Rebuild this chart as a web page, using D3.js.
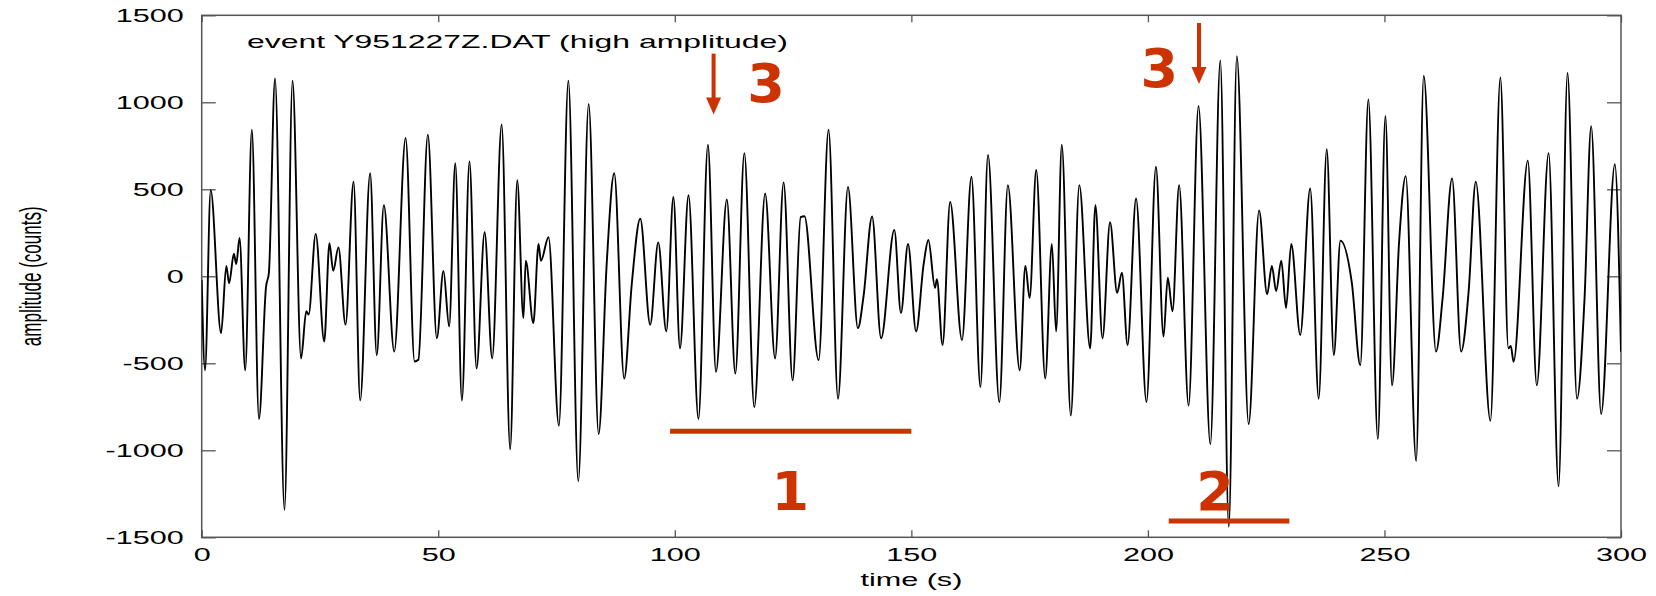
<!DOCTYPE html>
<html>
<head>
<meta charset="utf-8">
<script src="https://cdn.jsdelivr.net/npm/d3@7"></script>
<style>
  body { margin: 0; background: #fff; }
  svg { display: block; }
</style>
</head>
<body>
<div id="chart"></div>
<script>
// seismogram samples (time in s, amplitude in counts)
const time = [
  0.0, 0.7, 1.9, 4.1, 5.2, 5.8, 6.8, 7.3, 8.0, 9.2, 10.6, 12.1, 13.6, 14.2, 15.5, 17.5, 19.2, 21.0, 22.1, 22.6,
  24.1, 25.9, 27.0, 27.8, 28.9, 30.4, 32.1, 33.5, 35.6, 37.0, 38.5, 40.7, 43.1, 45.0, 45.8, 47.8, 49.7, 51.1, 52.3, 53.6,
  55.0, 56.6, 58.1, 59.8, 61.4, 63.4, 65.2, 66.7, 68.0, 68.5, 70.1, 71.2, 71.7, 73.3, 75.5, 77.5, 79.6, 81.8, 83.9, 85.6,
  87.2, 89.3, 90.9, 92.7, 94.8, 96.5, 98.2, 99.7, 101.1, 102.9, 105.0, 107.0, 108.7, 111.0, 112.8, 114.7, 116.8, 119.1, 121.2, 123.0,
  124.9, 126.6, 127.4, 130.4, 132.5, 134.5, 136.6, 138.7, 139.9, 141.7, 143.6, 146.4, 147.8, 149.3, 151.0, 152.6, 153.6, 155.0, 155.4, 156.6,
  158.2, 160.7, 162.7, 164.6, 166.2, 168.6, 170.4, 172.9, 174.1, 175.0, 176.4, 178.3, 179.7, 180.6, 181.8, 183.7, 185.5, 187.8, 188.9, 190.4,
  192.0, 193.5, 194.5, 195.7, 197.5, 199.7, 201.7, 203.3, 204.2, 205.2, 206.6, 208.6, 210.7, 213.2, 215.3, 217.1, 218.8, 221.3, 223.5, 225.2,
  226.2, 227.1, 228.2, 229.2, 230.3, 232.2, 234.3, 236.1, 237.8, 239.3, 240.7, 243.1, 244.9, 246.6, 248.6, 250.2, 251.6, 253.1, 254.5, 256.7,
  258.3, 260.9, 262.3, 264.3, 266.2, 267.8, 269.3, 272.4, 274.5, 276.2, 276.7, 277.3, 280.3, 282.2, 284.7, 286.8, 288.7, 290.7, 292.3, 293.7,
  295.8, 298.7, 300.0
];
const amplitude = [
  -20, -540, 495, -327, 60, -40, 130, 70, 220, -540, 843, -820, -60, 20, 1137, -1342, 1124, -472, -201, -220,
  244, -375, 190, 31, 166, -278, 543, -714, 592, -453, 408, -433, 795, -490, -480, 814, -356, 31, -288, 650,
  -714, 660, -530, 253, -472, 872, -994, 553, -240, 89, -269, 186, 89, 224, -859, 1124, -1178, 990, -907, 70,
  592, -588, -46, 331, -278, 195, -317, 456, -414, 466, -820, 756, -549, 441, -559, 708, -752, 476, -472, 540,
  -598, 340, 345, -482, 843, -704, 514, -298, -114, 344, -356, 267, -211, 186, -317, 70, 209, -66, -17, -395,
  427, -366, 572, -636, 698, -723, 524, -540, 60, -124, 611, -588, 186, -317, 756, -801, 524, -414, 408, -356,
  311, -95, 21, -395, 447, -723, 630, -346, -8, -201, 524, -743, 979, -965, 1240, -1439, 1265, -850, 379, -104,
  60, -85, 89, -182, 186, -337, 505, -704, 731, -453, 205, -37, -511, 1017, -936, 921, -627, 200, 576, -1062,
  1153, -433, -124, 563, -433, -85, 543, -830, 1143, -414, -400, -491, 665, -627, 708, -1207, 1168, -704, -124, 863,
  -791, 644, -433
];

const xTicks = [0, 50, 100, 150, 200, 250, 300];
const yTicks = [-1500, -1000, -500, 0, 500, 1000, 1500];

const title = "event Y951227Z.DAT (high amplitude)";
const xLabel = "time (s)";
const yLabel = "amplitude (counts)";

// red annotations, in data units
const arrows = [
  {t: 108.2, from: 1280, to: 930},
  {t: 210.8, from: 1456, to: 1105}
];
const spans = [
  {t0: 99, t1: 150, v: -890},
  {t0: 204.4, t1: 229.9, v: -1406}
];
const marks = [
  {t: 119.3, v: 1002, text: "3"},
  {t: 202.4, v: 1088, text: "3"},
  {t: 124.4, v: -1341, text: "1"},
  {t: 214.2, v: -1341, text: "2"}
];

const width = 1656, height = 596;
const plotLeft = 201.7, plotRight = 1621, plotTop = 15.3, plotBottom = 537.3;
const stretch = 1.7;
const red = "#cc3300";
const frameColor = "#555";

let svg = d3.select("#chart").append("svg")
  .attr("width", width)
  .attr("height", height)

let x = d3.scaleLinear().domain([0, 300]).range([plotLeft, plotRight])
let y = d3.scaleLinear().domain([-1500, 1500]).range([plotBottom, plotTop])

svg.append("defs").append("clipPath").attr("id", "plotClip")
  .append("rect")
  .attr("x", plotLeft).attr("y", plotTop)
  .attr("width", plotRight - plotLeft).attr("height", plotBottom - plotTop)

//axes with inward ticks on all four sides
let fmt = d => String(d)

let leftAxis = svg.append("g")
  .attr("transform", "translate(" + plotLeft + ",0)")
  .call(d3.axisLeft(y).tickValues(yTicks).tickSize(-14).tickFormat(fmt))
leftAxis.selectAll("text")
  .attr("x", 0)
  .attr("transform", "translate(-18,0) scale(" + stretch + ",1)")

svg.append("g")
  .attr("transform", "translate(" + plotRight + ",0)")
  .call(d3.axisRight(y).tickValues(yTicks).tickSize(-14).tickFormat(""))

let bottomAxis = svg.append("g")
  .attr("transform", "translate(0," + plotBottom + ")")
  .call(d3.axisBottom(x).tickValues(xTicks).tickSize(-7).tickPadding(11).tickFormat(fmt))
bottomAxis.selectAll("text")
  .attr("transform", "scale(" + stretch + ",1)")

svg.append("g")
  .attr("transform", "translate(0," + plotTop + ")")
  .call(d3.axisTop(x).tickValues(xTicks).tickSize(-7).tickFormat(""))

svg.selectAll(".domain").remove()
svg.selectAll(".tick line").attr("stroke", frameColor).attr("stroke-width", 1.3)
svg.selectAll(".tick text")
  .attr("fill", "#000")
  .style("font-family", "'Liberation Sans', Arial, sans-serif")
  .style("font-size", "18px")

//frame
svg.append("rect")
  .attr("x", plotLeft).attr("y", plotTop)
  .attr("width", plotRight - plotLeft).attr("height", plotBottom - plotTop)
  .attr("fill", "none")
  .attr("stroke", frameColor)
  .attr("stroke-width", 1.5)

//waveform
let points = time.map((t, i) => [t, amplitude[i]])
let line = d3.line()
  .x(d => x(d[0]))
  .y(d => y(d[1]))
  .curve(d3.curveMonotoneX)

svg.append("path")
  .datum(points)
  .attr("clip-path", "url(#plotClip)")
  .attr("d", line)
  .attr("fill", "none")
  .attr("stroke", "#000")
  .attr("stroke-width", 1.9)

//title and axis labels
svg.append("text")
  .text(title)
  .attr("transform", "translate(247,48) scale(1.68,1)")
  .style("font-family", "'Liberation Sans', Arial, sans-serif")
  .style("font-size", "19px")

svg.append("text")
  .text(xLabel)
  .attr("text-anchor", "middle")
  .attr("transform", "translate(" + x(150) + ",586) scale(" + stretch + ",1)")
  .style("font-family", "'Liberation Sans', Arial, sans-serif")
  .style("font-size", "18px")

svg.append("text")
  .text(yLabel)
  .attr("text-anchor", "middle")
  .attr("transform", "translate(41," + y(0) + ") rotate(-90) scale(1," + stretch + ")")
  .style("font-family", "'Liberation Sans', Arial, sans-serif")
  .style("font-size", "17px")

//red annotations
svg.selectAll(".span")
  .data(spans)
  .enter().append("line")
  .attr("x1", d => x(d.t0))
  .attr("x2", d => x(d.t1))
  .attr("y1", d => y(d.v))
  .attr("y2", d => y(d.v))
  .attr("stroke", red)
  .attr("stroke-width", 5)

let arrow = svg.selectAll(".arrow")
  .data(arrows)
  .enter().append("g")

arrow.append("line")
  .attr("x1", d => x(d.t))
  .attr("x2", d => x(d.t))
  .attr("y1", d => y(d.from))
  .attr("y2", d => y(d.to) - 14)
  .attr("stroke", red)
  .attr("stroke-width", 4)

arrow.append("path")
  .attr("d", d => {
    let px = x(d.t), py = y(d.to)
    return "M" + (px - 7.5) + "," + (py - 17) + "L" + (px + 7.5) + "," + (py - 17) + "L" + px + "," + py + "Z"
  })
  .attr("fill", red)

svg.selectAll(".mark")
  .data(marks)
  .enter().append("text")
  .text(d => d.text)
  .attr("x", d => x(d.t))
  .attr("y", d => y(d.v))
  .attr("text-anchor", "middle")
  .attr("fill", red)
  .style("font-family", "'DejaVu Sans', Verdana, sans-serif")
  .style("font-weight", "bold")
  .style("font-size", "54px")
</script>
</body>
</html>
